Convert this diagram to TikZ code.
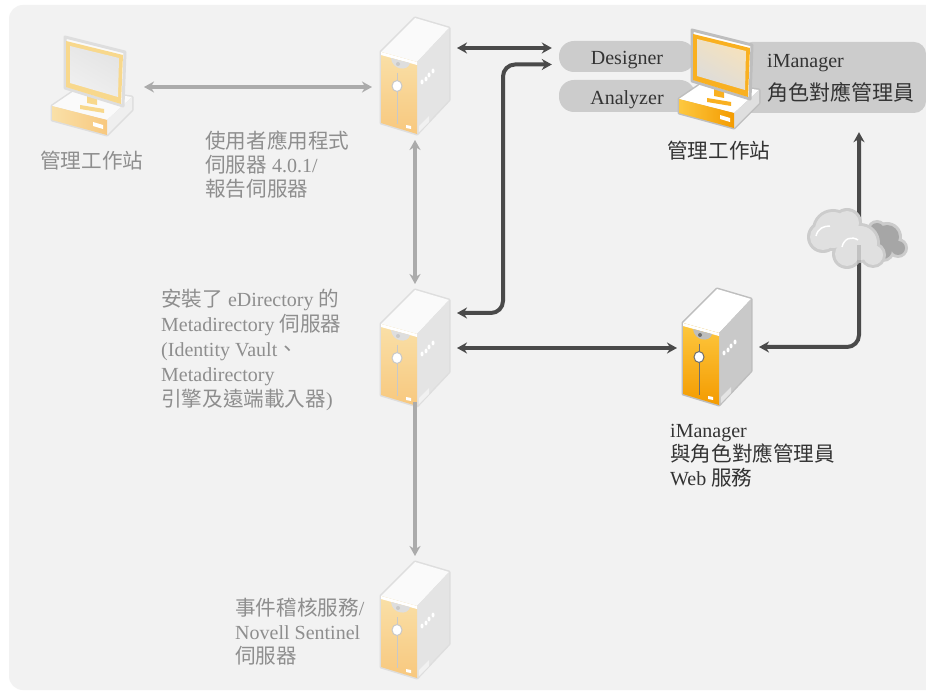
\documentclass[tikz,border=0pt]{standalone}
\usepackage{fontspec}
\setmainfont{Liberation Serif}
\newfontfamily\cjk[Scale=1.03]{Noto Sans CJK TC}
\usetikzlibrary{arrows.meta}
\definecolor{paleFrontT}{HTML}{F9E0A8}
\definecolor{paleFrontB}{HTML}{F8C87E}
\definecolor{paleSide}{HTML}{E4E4E4}
\definecolor{paleEdge}{HTML}{DEDEDE}
\definecolor{paleTop}{HTML}{FAFAFA}
\definecolor{paleMark}{HTML}{C8C8C8}
\definecolor{paleScreenT}{HTML}{E4E4E4}
\definecolor{paleScreenB}{HTML}{F0F0F0}
\definecolor{paleFrame}{HTML}{F8D88C}
\definecolor{deepFrontT}{HTML}{FDC840}
\definecolor{deepFrontB}{HTML}{F49B00}
\definecolor{deepSide}{HTML}{C9C9C9}
\definecolor{deepEdge}{HTML}{BEBEBE}
\definecolor{deepTop}{HTML}{FFFFFF}
\definecolor{deepMark}{HTML}{6E6E6E}
\definecolor{deepScreenT}{HTML}{F6E2BC}
\definecolor{deepScreenB}{HTML}{DCDCDC}
\definecolor{deepFrame}{HTML}{F9B020}
\definecolor{panel}{HTML}{F2F2F2}
\definecolor{pillgray}{HTML}{CCCCCC}
\definecolor{darkline}{HTML}{4A4A4A}
\definecolor{paleline}{HTML}{ABABAB}
\definecolor{paletext}{HTML}{8E8E8E}
\definecolor{darktext}{HTML}{333333}
\tikzset{
  darkarrow/.style={line width=4pt,darkline,{Stealth[length=10pt,width=11pt]}-{Stealth[length=10pt,width=11pt]},rounded corners=12pt},
  palearrow/.style={line width=4pt,paleline,{Stealth[length=10pt,width=11pt]}-{Stealth[length=10pt,width=11pt]}},
  paleonce/.style={line width=4pt,paleline,-{Stealth[length=10pt,width=11pt]}},
  pill/.style={fill=pillgray,text=darktext,font=\fontsize{20}{24}\selectfont,inner sep=0pt,text depth=0pt},
  label/.style={anchor=north west,align=left,inner sep=0pt,font=\fontsize{20}{24}\selectfont},
  palelabel/.style={label,text=paletext},
  darklabel/.style={label,text=darktext},
  pics/serverpic/.style={code={
    \fill [#1Edge,draw=#1Edge,line width=3pt,line join=round] (0,0)--(34,-34)--(68,-24)--(68,48)--(36,82)--(0,71)--cycle;
    \fill [#1Top] (0,0)--(34,-34)--(68,-24)--(36,10)--cycle;
    \fill [#1Side] (36,10)--(68,-24)--(68,48)--(36,82)--cycle;
    \fill [white,opacity=.5] (38,74)--(48,64)--(48,70)--(38,80)--cycle;
    \shade [top color=#1FrontT,bottom color=#1FrontB] (0,0)--(36,10)--(36,82)--(0,71)--cycle;
    \fill [white] (0,0)--(36,10)--(36,13)--(0,3)--cycle;
    \fill [#1Edge] (10,6) .. controls (11,18) and (27,20) .. (29,11)--cycle;
    \fill [#1Mark] (17,12) circle (2);
    \draw [#1Mark,line width=1pt] (16,21)--(16,72);
    \draw [#1Mark,fill=white,line width=1pt] (16,34) ellipse (5 and 5.5);
    \fill [white] (25,73)--(30,74)--(30,77)--(25,76)--cycle;
    \foreach \dx/\dy in {41/30,45/27,48/23,52/19}
      \fill [white] (\dx,\dy) ellipse (1.5 and 2.5);
    \coordinate (-west) at (-9,35);
    \coordinate (-east) at (76,24);
    \coordinate (-wside) at (-6,25);
    \coordinate (-north) at (34,-40);
    \coordinate (-south) at (34,88);
    \coordinate (-base) at (34,78);
  }},
  pics/deskpic/.style={code={
    \fill [#1Edge,draw=#1Edge,line width=3pt,line join=round] (-13,69)--(12,52)--(67,60)--(67,73)--(42,98)--(-13,83)--cycle;
    \fill [#1Top] (-13,69)--(12,52)--(67,60)--(42,83)--cycle;
    \fill [#1Side!60!white] (42,83)--(67,60)--(67,73)--(42,98)--cycle;
    \shade [left color=#1FrontT,right color=#1FrontB] (-13,69)--(42,83)--(42,98)--(-13,83)--cycle;
    \fill [white] (28,85)--(38,88)--(38,92)--(28,89)--cycle;
    \fill [#1Frame] (15,68)--(39,72)--(39,76)--(15,72)--cycle;
    \fill [#1Frame] (22,55)--(32,57)--(32,68)--(22,66)--cycle;
    \fill [#1Top,draw=#1Edge,line width=3pt,line join=round] (0,0)--(60,15)--(58,69)--(0,51)--cycle;
    \fill [#1Frame] (1,4)--(58,18)--(56,67)--(1,50)--cycle;
    \shade [top color=#1ScreenT,bottom color=#1ScreenB,shading angle=-30] (5,9)--(54,21)--(53,60)--(5,46)--cycle;
    \coordinate (-east) at (79,50);
  }},
}
\begin{document}
\begin{tikzpicture}[x=1pt,y=-1pt]
\useasboundingbox (0,0) rectangle (926,692);
\fill [white] (0,0) rectangle (926,692);
\fill [panel,rounded corners=14pt] (9,5) rectangle (940,690);
% pills behind the right desk
\node [pill,minimum width=136pt,minimum height=31pt,rounded corners=15pt] (designer) at (627,56.5) {\raisebox{-3pt}{Designer}};
\node [pill,minimum width=136pt,minimum height=32pt,rounded corners=15pt] (analyzer) at (627,96) {\raisebox{-3pt}{Analyzer}};
\node [fill=pillgray,minimum width=186pt,minimum height=71pt,rounded corners=12pt,inner sep=0pt] (manager) at (833,77.5) {};
\node [darklabel] (managerA) at (767,54) {iManager};
\node [darklabel] (managerB) at (767,82) {\cjk\addfontfeature{Scale=1.05}角色對應管理員};
% machines
\pic (deskA) at (65,37) {deskpic=pale};
\pic (deskB) at (692,30) {deskpic=deep};
\pic (srvA) at (381,52) {serverpic=pale};
\pic (srvB) at (381,324) {serverpic=pale};
\pic (srvC) at (683,323) {serverpic=deep};
\pic (srvD) at (381,596) {serverpic=pale};
% connectors
\draw [palearrow] (deskA-east) -- (srvA-west);
\draw [darkarrow] ([shift={(0,-28)}]srvA-east) -- ([shift={(-7,-8.5)}]designer.west);
\draw [palearrow] (srvA-south) -- (srvB-north);
\draw [darkarrow] ([shift={(0,-35)}]srvB-east) -| (503,64.5) coordinate (elbowA) -- ([shift={(-7,8)}]designer.west);
\draw [darkarrow] (srvB-east) -- (srvC-wside);
\draw [darkarrow] (srvC-east) -| ([shift={(26,19)}]manager.south);
\draw [paleonce] (srvB-base) -- (srvD-north);
% cloud
\foreach \cx/\cy/\cr in {887/237/15,898/248/10,877/230/10,883/250/12}
  \fill [pillgray] (\cx,\cy) circle (\cr);
\foreach \cx/\cy/\cr in {887/237/12,898/248/7,877/230/7,883/250/9}
  \fill [gray!70] (\cx,\cy) circle (\cr);
\foreach \cx/\cy/\cr in {833/230/21,860/243/20,847/254/15,873/255/13,823/237/16,847/223/15}
  \fill [pillgray] (\cx,\cy) circle (\cr);
\foreach \cx/\cy/\cr in {833/230/18,860/243/17,847/254/12,873/255/10,823/237/13,847/223/12}
  \fill [white!88!black] (\cx,\cy) circle (\cr);
\fill [darkline,opacity=.2] (857,245) rectangle (861,267);
\draw [white,line width=1.5pt] (842,247) .. controls (844,238) and (852,236) .. (858,240);
\draw [white,line width=1.5pt] (816,236) .. controls (818,228) and (824,226) .. (830,226);
% labels
\node [palelabel] (deskAtext) at (40,151) {\cjk 管理工作站};
\node [darklabel] (deskBtext) at (667,141) {\cjk 管理工作站};
\node [palelabel] (srvAtext) at (205,131) {\cjk 使用者應用程式\\{\cjk 伺服器} 4.0.1/\\{\cjk 報告伺服器}};
\node [palelabel,font=\fontsize{20}{25}\selectfont] (srvBtext) at (161,289) {{\cjk 安裝了} eDirectory {\cjk 的}\\Metadirectory {\cjk 伺服器}\\(Identity Vault{\cjk 、}\\Metadirectory\\{\cjk 引擎及遠端載入器})};
\node [darklabel] (srvCtext) at (670,424) {iManager\\{\cjk 與角色對應管理員}\\Web {\cjk 服務}};
\node [palelabel] (srvDtext) at (235,598) {{\cjk 事件稽核服務}/\\Novell Sentinel\\{\cjk 伺服器}};
\end{tikzpicture}
\end{document}
